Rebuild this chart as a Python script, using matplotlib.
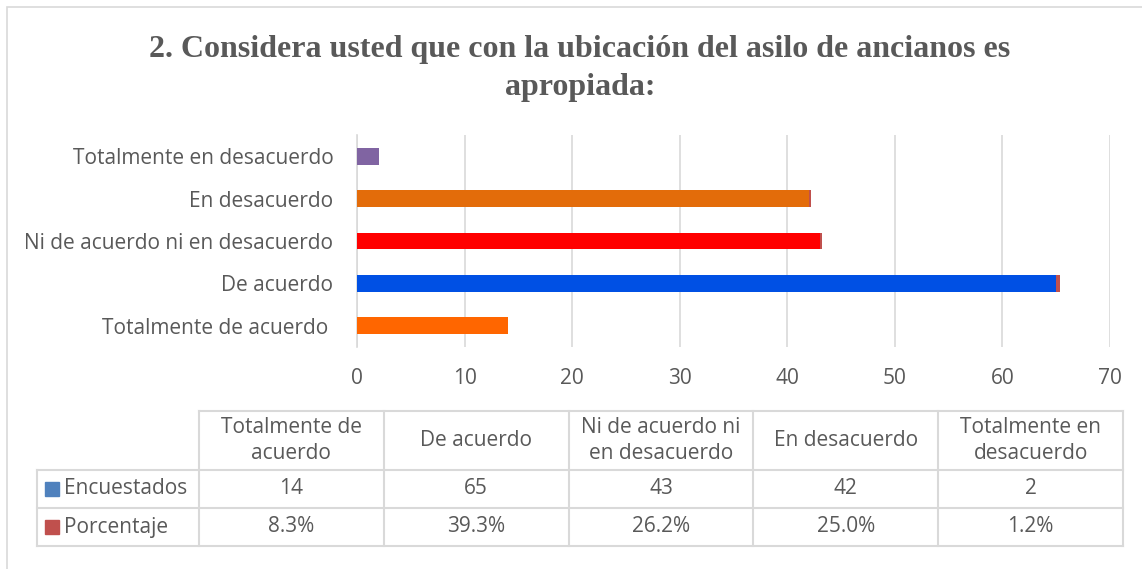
import matplotlib
matplotlib.use("Agg")
import matplotlib.pyplot as plt
from matplotlib.patches import Rectangle

categories = ["Totalmente de acuerdo", "De acuerdo", "Ni de acuerdo ni en desacuerdo",
              "En desacuerdo", "Totalmente en desacuerdo"]
axis_labels = ["Totalmente de acuerdo ", "De acuerdo", "Ni de acuerdo ni en desacuerdo",
               "En desacuerdo", "Totalmente en desacuerdo"]
header_labels = ["Totalmente de\nacuerdo", "De acuerdo", "Ni de acuerdo ni\nen desacuerdo",
                 "En desacuerdo", "Totalmente en\ndesacuerdo"]
encuestados = [14, 65, 43, 42, 2]
porcentaje = [0.083, 0.393, 0.262, 0.250, 0.012]
bar_colors = ["#FF6600", "#0050E4", "#FF0000", "#E36C0A", "#8064A2"]
series_names = ["Encuestados", "Porcentaje"]
series_colors = ["#4F81BD", "#C0504D"]

W, H = 1142, 569
TXT = "#595959"
GRID = "#D9D9D9"
FONT = "Open Sans"
FS = 15

fig = plt.figure(figsize=(W / 100, H / 100), dpi=100)


def fx(px):
    return px / W


def fy(py):
    return 1 - py / H


# outer chart border
fig.add_artist(Rectangle((fx(7), fy(600)), fx(1200) - fx(7), fy(7) - fy(600),
                         transform=fig.transFigure, fill=False, edgecolor=GRID, lw=1.2))

fig.text(fx(580), fy(50), "2. Considera usted que con la ubicación del asilo de ancianos es",
         ha="center", va="center", fontsize=23, fontweight="bold", color=TXT,
         family="Liberation Serif")
fig.text(fx(580), fy(88), "apropiada:", ha="center", va="center", fontsize=23,
         fontweight="bold", color=TXT, family="Liberation Serif")

ax = fig.add_axes([fx(357), fy(347), fx(1110) - fx(357), fy(135) - fy(347)])
y = range(len(categories))
ax.barh(y, encuestados, height=0.4, color=bar_colors, zorder=3)
ax.barh(y, porcentaje, left=encuestados, height=0.4, color=series_colors[1], zorder=3)
ax.set_xlim(0, 70)
ax.set_ylim(-0.5, 4.5)
ax.set_xticks(range(0, 71, 10))
ax.set_yticks(list(y))
ax.set_yticklabels(axis_labels)
ax.grid(axis="x", color=GRID, lw=1.2, zorder=0)
for s in ["top", "right", "bottom"]:
    ax.spines[s].set_visible(False)
ax.spines["left"].set_color(GRID)
ax.spines["left"].set_linewidth(1.2)
ax.tick_params(length=0, labelsize=FS, labelcolor=TXT)
ax.tick_params(axis="y", pad=17)
ax.tick_params(axis="x", pad=15)
for lab in ax.get_xticklabels() + ax.get_yticklabels():
    lab.set_family(FONT)

# data table below the chart
col_x = [199 + i * 184.8 for i in range(6)]
row_y = [411, 470, 508, 546]


def hline(x0, x1, yy):
    fig.add_artist(plt.Line2D([fx(x0), fx(x1)], [fy(yy), fy(yy)], transform=fig.transFigure,
                              color=GRID, lw=1.5))


def vline(xx, y0, y1):
    fig.add_artist(plt.Line2D([fx(xx), fx(xx)], [fy(y0), fy(y1)], transform=fig.transFigure,
                              color=GRID, lw=1.5))


hline(col_x[0], col_x[-1], row_y[0])
for yy in row_y[1:]:
    hline(37, col_x[-1], yy)
for xx in col_x:
    vline(xx, row_y[0], row_y[-1])
vline(37, row_y[1], row_y[-1])

for i, h in enumerate(header_labels):
    cx = (col_x[i] + col_x[i + 1]) / 2
    fig.text(fx(cx), fy((row_y[0] + row_y[1]) / 2), h, ha="center", va="center",
             fontsize=FS, color=TXT, family=FONT, linespacing=1.3)
    fig.text(fx(cx), fy((row_y[1] + row_y[2]) / 2), str(encuestados[i]), ha="center",
             va="center", fontsize=FS, color=TXT, family=FONT)
    fig.text(fx(cx), fy((row_y[2] + row_y[3]) / 2), f"{porcentaje[i] * 100:.1f}%",
             ha="center", va="center", fontsize=FS, color=TXT, family=FONT)

for r, (name, c) in enumerate(zip(series_names, series_colors)):
    yc = (row_y[r + 1] + row_y[r + 2]) / 2
    fig.add_artist(Rectangle((fx(45), fy(yc + 7)), fx(14), fy(0) - fy(14),
                             transform=fig.transFigure, color=c))
    fig.text(fx(64), fy(yc), name, ha="left", va="center", fontsize=FS, color=TXT,
             family=FONT)

fig.savefig("out.png", dpi=100)
